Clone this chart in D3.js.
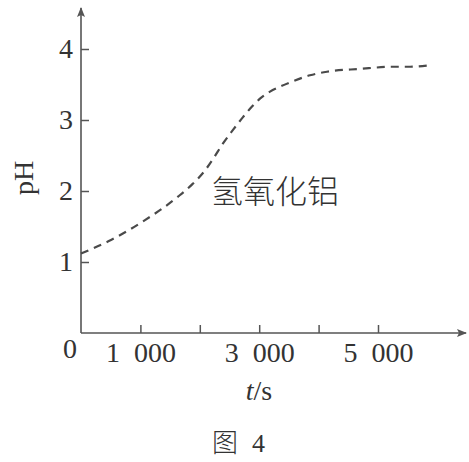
<!DOCTYPE html>
<html><head><meta charset="utf-8">
<script src="https://cdn.jsdelivr.net/npm/d3@7"></script>
<style>body{margin:0;background:#fff}svg{display:block}</style>
</head><body>
<script>
const timeValues = [0, 505, 1077, 1633, 1880, 2088, 2222, 2391, 2559, 2727, 2879, 3013, 3182, 3350, 3552, 3855, 4141, 4697, 5252, 5539, 5875];
const phValues   = [1.12, 1.31, 1.59, 1.92, 2.10, 2.29, 2.45, 2.67, 2.86, 3.04, 3.19, 3.30, 3.40, 3.47, 3.54, 3.63, 3.68, 3.72, 3.75, 3.75, 3.77];
const xTicks = [1000, 2000, 3000, 4000, 5000];
const xTickLabels = ["1\u2002000", "", "3\u2002000", "", "5\u2002000"];
const yTicks = [1, 2, 3, 4];
const seriesLabel = "氢氧化铝";
const xTitle = "s";
const yTitle = "pH";
const caption = "图";

const W = 469, H = 462;
const svg = d3.select("body").append("svg").attr("width", W).attr("height", H);
const x = d3.scaleLinear().domain([0, 6000]).range([81, 81 + 6 * 59.4]);
const y = d3.scaleLinear().domain([0, 4]).range([333, 49]);
const axisColor = "#555";
const serif = "'Liberation Serif','Times New Roman',serif";

// axes lines with arrows
svg.append("defs").append("marker").attr("id","arr").attr("viewBox","0 0 10 10")
  .attr("refX",9).attr("refY",5).attr("markerWidth",10).attr("markerHeight",10)
  .attr("markerUnits","userSpaceOnUse").attr("orient","auto")
  .append("path").attr("d","M0,1 L10,5 L0,9 L2,5 Z").attr("fill",axisColor);
svg.append("line").attr("x1", x(0)).attr("y1", y(0)).attr("x2", 466).attr("y2", y(0))
  .attr("stroke", axisColor).attr("stroke-width", 1.6).attr("marker-end","url(#arr)");
svg.append("line").attr("x1", x(0)).attr("y1", y(0)).attr("x2", x(0)).attr("y2", 8)
  .attr("stroke", axisColor).attr("stroke-width", 1.6).attr("marker-end","url(#arr)");

// x axis ticks
const gx = svg.append("g").attr("transform", `translate(0,${y(0)})`)
  .call(d3.axisBottom(x).tickValues(xTicks).tickSize(-8).tickPadding(9)
    .tickFormat((d, i) => xTickLabels[i]));
gx.select(".domain").remove();
gx.selectAll(".tick line").attr("stroke", axisColor).attr("stroke-width", 1.5);
gx.selectAll(".tick text").attr("font-family", serif).attr("font-size", 28).attr("fill", "#333")
  .attr("dy", "0.71em");

// y axis ticks
const gy = svg.append("g").attr("transform", `translate(${x(0)},0)`)
  .call(d3.axisLeft(y).tickValues(yTicks).tickSize(-8).tickPadding(8).tickFormat(d3.format("d")));
gy.select(".domain").remove();
gy.selectAll(".tick line").attr("stroke", axisColor).attr("stroke-width", 1.5);
gy.selectAll(".tick text").attr("font-family", serif).attr("font-size", 28).attr("fill", "#333");

// origin label
svg.append("text").attr("x", 70).attr("y", 358).attr("text-anchor", "middle")
  .attr("font-family", serif).attr("font-size", 28).attr("fill", "#333").text("0");

// curve
const data = timeValues.map((t, i) => [t, phValues[i]]);
svg.append("path").datum(data)
  .attr("d", d3.line().x(d => x(d[0])).y(d => y(d[1])).curve(d3.curveMonotoneX))
  .attr("fill", "none").attr("stroke", "#4a4a4a").attr("stroke-width", 2.2)
  .attr("stroke-dasharray", "8,6");

// series label
svg.append("text").attr("x", 211).attr("y", 203)
  .attr("font-family", "'Noto Sans CJK SC',sans-serif").attr("font-weight", 300)
  .attr("font-size", 32).attr("fill", "#333").text(seriesLabel);

// axis titles
const tt = svg.append("text").attr("x", 259).attr("y", 400).attr("text-anchor", "middle")
  .attr("font-family", serif).attr("font-size", 28).attr("fill", "#333");
tt.append("tspan").attr("font-style", "italic").text("t");
tt.append("tspan").text("/" + xTitle);

svg.append("text").attr("transform", "translate(33,178) rotate(-90)").attr("text-anchor", "middle")
  .attr("font-family", serif).attr("font-size", 28).attr("fill", "#333").text(yTitle);

// caption
const cap = svg.append("text").attr("x", 212).attr("y", 452)
  .attr("font-family", serif).attr("font-size", 26).attr("fill", "#333");
cap.append("tspan").attr("font-family", "'Noto Sans CJK SC',sans-serif").attr("font-weight", 300).text(caption);
cap.append("tspan").attr("dx", 14).text("4");
</script>
</body></html>
